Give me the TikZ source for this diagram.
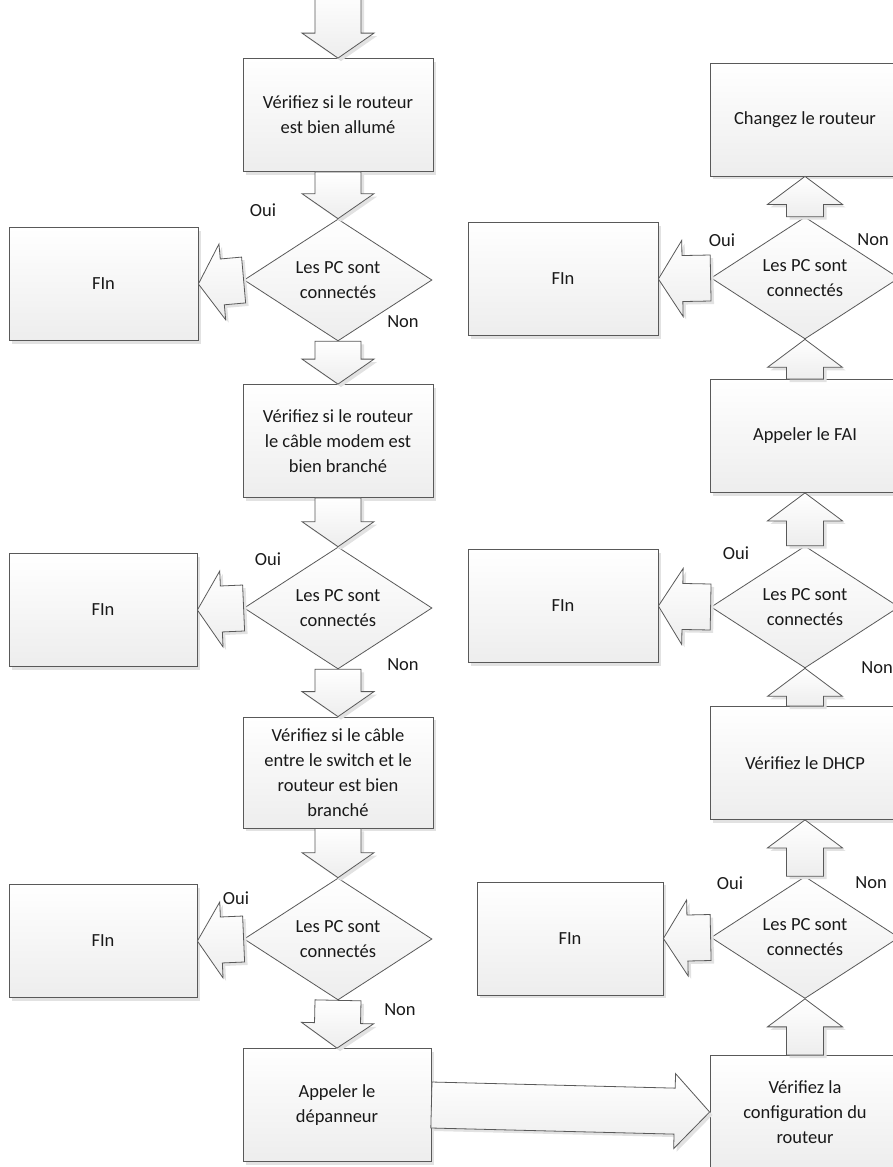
\documentclass[tikz,border=0pt]{standalone}
\usepackage{fontspec}
\setmainfont{Carlito}
\usetikzlibrary{calc, shapes.geometric, shadows}

\definecolor{bord}{HTML}{595959}
\definecolor{ombre}{HTML}{E2E2E2}

\tikzset{
    boite/.style={rectangle, draw=bord, line width=0.8pt, top color=white, bottom color=black!7,
        drop shadow={shadow xshift=3pt, shadow yshift=-3pt, fill=ombre, opacity=1},
        minimum width=190pt, minimum height=113pt, inner sep=0pt, align=center, text=black!90,
        font=\fontsize{18.5}{25}\selectfont},
    losange/.style={diamond, draw=bord, line width=0.8pt, top color=white, bottom color=black!7,
        minimum width=188pt, minimum height=113pt, inner sep=0pt, align=center, text=black!90,
        font=\fontsize{18.5}{25}\selectfont},
    etiq/.style={inner sep=0pt, text=black!90, font=\fontsize{18.5}{25}\selectfont},
    fleche/.style={draw=bord, line width=0.8pt, top color=white, bottom color=black!7,
        drop shadow={shadow xshift=3pt, shadow yshift=-3pt, fill=ombre, opacity=1}}
}

% grosse fleche : depart, arrivee, demi-tige, demi-tete, longueur tete
\newcommand{\flecheblock}[5]{%
    \coordinate (fb) at ($(#2)!#5!(#1)$);
    \path[fleche] ($(#1)!#3!90:(#2)$) -- ($(fb)!#3!90:(#2)$) -- ($(fb)!#4!90:(#2)$) -- (#2)
        -- ($(fb)!#4!-90:(#2)$) -- ($(fb)!#3!-90:(#2)$) -- ($(#1)!#3!-90:(#2)$) -- cycle;
}

\begin{document}
\begin{tikzpicture}[x=1pt, y=-1pt]
    \useasboundingbox (0,0) rectangle (893,1167);

    % colonne gauche
    \node[boite] (allume) at (338,115) {Vérifiez si le routeur\\est bien allumé};
    \node[losange] (test1) at (338,280) {Les PC sont\\connectés};
    \node[boite] (modem) at (338,441) {Vérifiez si le routeur\\le câble modem est\\bien branché};
    \node[losange] (test2) at (338,608) {Les PC sont\\connectés};
    \node[boite, minimum height=111pt] (switch) at (338,772.5) {Vérifiez si le câble\\entre le switch et le\\routeur est bien\\branché};
    \node[losange] (test3) at (338,939) {Les PC sont\\connectés};
    \node[boite, minimum width=188pt] (depann) at (337,1105) {Appeler le\\dépanneur};

    % fins a gauche
    \node[boite, minimum width=189pt] (fin1) at (103.5,284) {FIn};
    \node[boite, minimum width=188pt] (fin2) at (103,610) {FIn};
    \node[boite, minimum width=188pt] (fin3) at (103,941) {FIn};

    % colonne droite
    \node[boite] (config) at (805,1112) {Vérifiez la\\configuration du\\routeur};
    \node[losange] (test4) at (805,937.5) {Les PC sont\\connectés};
    \node[boite] (dhcp) at (805,763) {Vérifiez le DHCP};
    \node[losange] (test5) at (805,607) {Les PC sont\\connectés};
    \node[boite] (fai) at (805,436) {Appeler le FAI};
    \node[losange, minimum height=110pt] (test6) at (805,278) {Les PC sont\\connectés};
    \node[boite] (changer) at (805,119.5) {Changez le routeur};

    % fins au milieu
    \node[boite] (finr1) at (563,279) {FIn};
    \node[boite] (finr2) at (563,606) {FIn};
    \node[boite, minimum width=186pt] (finr3) at (570,938.5) {FIn};

    % fleches
    \coordinate (haut) at (338,-10);
    \flecheblock{haut}{allume.north}{23pt}{36pt}{25pt}
    \foreach \a/\b in {allume/test1, test1/modem, modem/test2, test2/switch, switch/test3, test3/depann}
        \flecheblock{\a.south}{\b.north}{23pt}{36pt}{25pt};
    \foreach \a/\b in {config/test4, test4/dhcp, dhcp/test5, test5/fai, fai/test6, test6/changer}
        \flecheblock{\a.north}{\b.south}{18.5pt}{37.5pt}{28pt};
    \foreach \a/\b in {test1/fin1, test2/fin2, test3/fin3, test6/finr1, test5/finr2, test4/finr3}
        \flecheblock{\a.west}{\b.east}{23pt}{38pt}{24pt};
    \flecheblock{depann.east}{config.west}{23pt}{37.5pt}{35pt}

    % oui / non
    \node[etiq] (oui1) at (263,210) {Oui};
    \node[etiq] (non1) at (403,322) {Non};
    \node[etiq] (oui2) at (268,559) {Oui};
    \node[etiq] (non2) at (403,665) {Non};
    \node[etiq] (oui3) at (236,898) {Oui};
    \node[etiq] (non3) at (400,1010) {Non};
    \node[etiq] (oui6) at (722,240) {Oui};
    \node[etiq] (non6) at (873,240) {Non};
    \node[etiq] (oui5) at (736,553) {Oui};
    \node[etiq] (non5) at (877,668) {Non};
    \node[etiq] (oui4) at (730,883) {Oui};
    \node[etiq] (non4) at (871,883) {Non};
\end{tikzpicture}
\end{document}
